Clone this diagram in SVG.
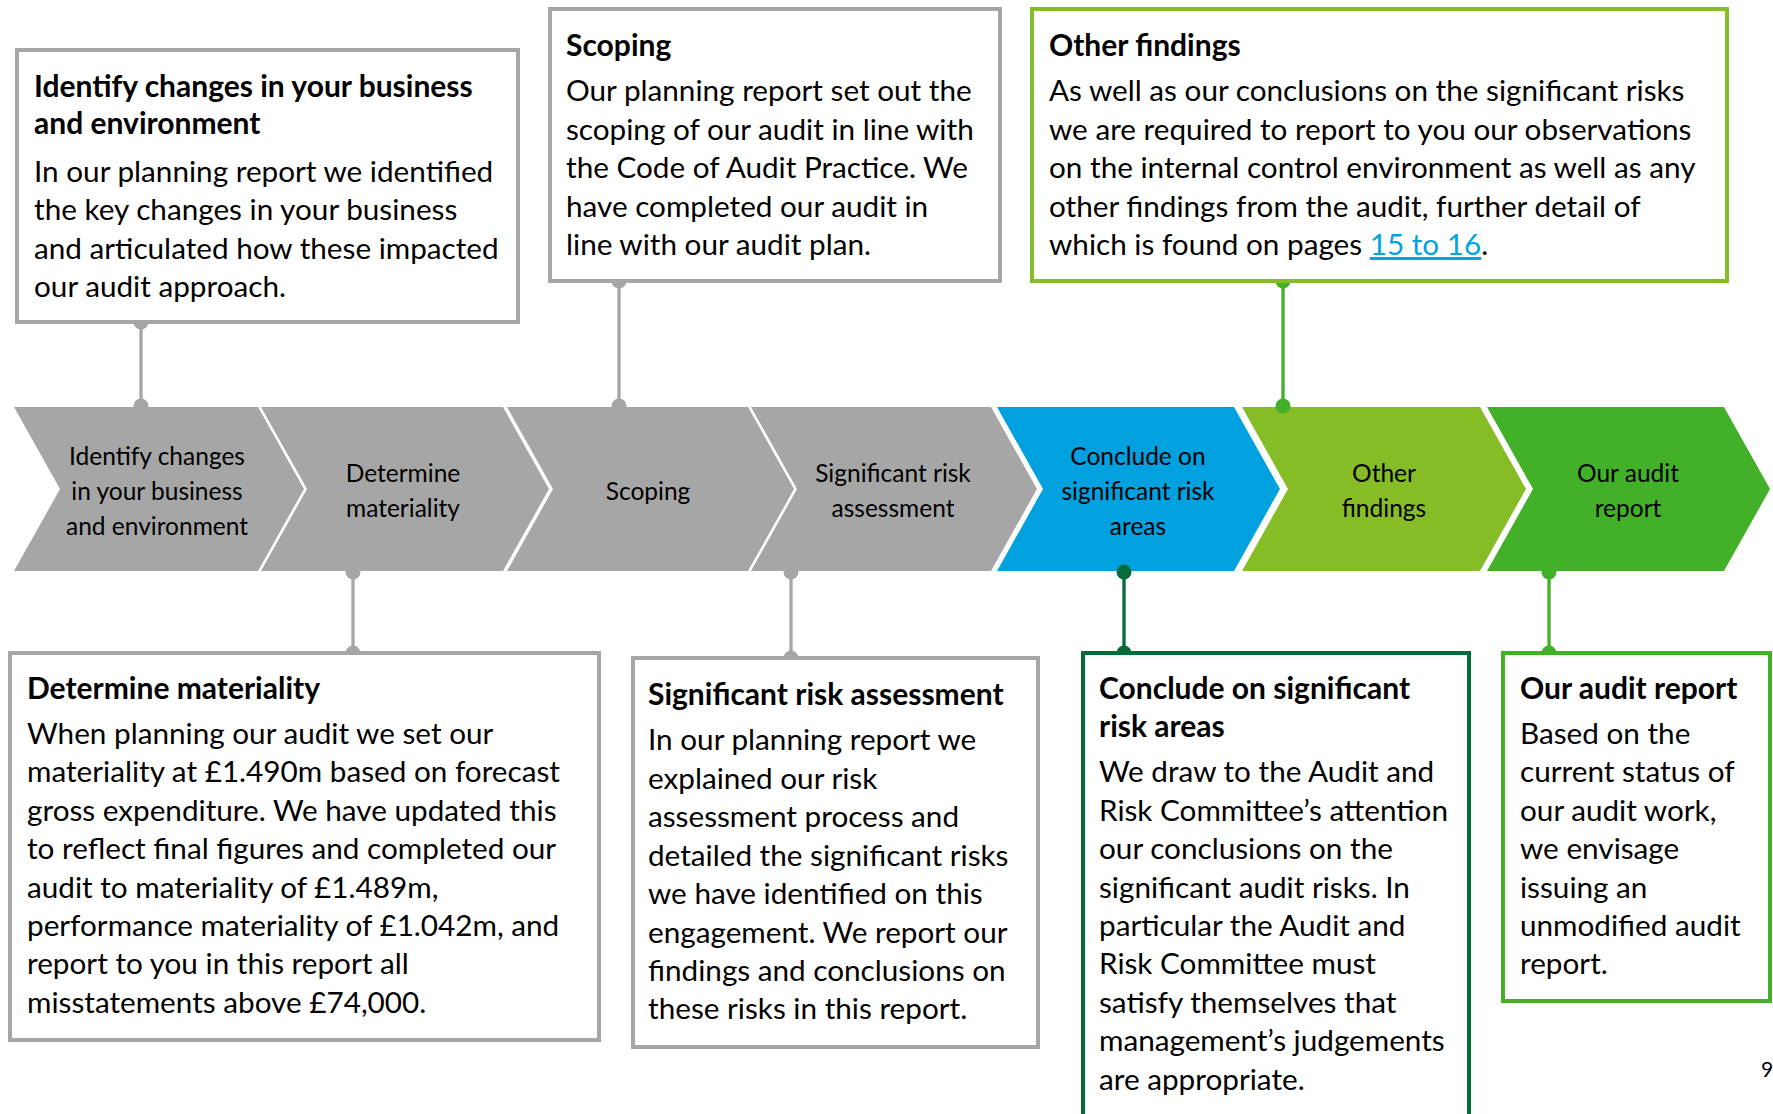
<svg xmlns="http://www.w3.org/2000/svg" width="1773" height="1114" viewBox="0 0 1773 1114">
  <style>
    .bg { fill: #ffffff; }
    .box { fill: #ffffff; stroke-width: 4; }
    .grey { stroke: #a6a6a6; }
    .lime { stroke: #86bc25; }
    .dark { stroke: #046a38; }
    .green { stroke: #43b02a; }
    .title { font-family: Lato, "Liberation Sans", sans-serif; font-weight: bold; font-size: 30px; fill: #000000; }
    .body { font-family: Lato, "Liberation Sans", sans-serif; font-size: 29.7px; fill: #000000; }
    .step { font-family: Lato, "Liberation Sans", sans-serif; font-size: 24.5px; fill: #000000; text-anchor: middle; }
    .link { fill: #00a3e0; text-decoration: underline; }
    .wire { fill: none; stroke-width: 3.3; }
    .page { font-family: Lato, "Liberation Sans", sans-serif; font-size: 21px; fill: #000000; }
  </style>

  <rect class="bg" x="0" y="0" width="1773" height="1114"/>

  <!-- process chevrons -->
  <g id="step-identify">
    <polygon points="14,407 258,407 304,489 258,571 14,571 60,489" fill="#a6a6a6"/>
    <text class="step" x="157" y="465">Identify changes</text>
    <text class="step" x="157" y="500">in your business</text>
    <text class="step" x="157" y="535">and environment</text>
  </g>
  <g id="step-materiality">
    <polygon points="261,407 503,407 549,489 503,571 261,571 307,489" fill="#a6a6a6"/>
    <text class="step" x="403" y="482">Determine</text>
    <text class="step" x="403" y="517">materiality</text>
  </g>
  <g id="step-scoping">
    <polygon points="507,407 748,407 794,489 748,571 507,571 553,489" fill="#a6a6a6"/>
    <text class="step" x="648" y="500">Scoping</text>
  </g>
  <g id="step-risk">
    <polygon points="751,407 991,407 1037,489 991,571 751,571 797,489" fill="#a6a6a6"/>
    <text class="step" x="893" y="482">Significant risk</text>
    <text class="step" x="893" y="517">assessment</text>
  </g>
  <g id="step-conclude">
    <polygon points="997,407 1234,407 1280,489 1234,571 997,571 1043,489" fill="#00a1de"/>
    <text class="step" x="1138" y="465">Conclude on</text>
    <text class="step" x="1138" y="500">significant risk</text>
    <text class="step" x="1138" y="535">areas</text>
  </g>
  <g id="step-findings">
    <polygon points="1242,407 1480,407 1526,489 1480,571 1242,571 1288,489" fill="#86bc25"/>
    <text class="step" x="1384" y="482">Other</text>
    <text class="step" x="1384" y="517">findings</text>
  </g>
  <g id="step-report">
    <polygon points="1487,407 1724,407 1770,489 1724,571 1487,571 1533,489" fill="#43b02a"/>
    <text class="step" x="1628" y="482">Our audit</text>
    <text class="step" x="1628" y="517">report</text>
  </g>

  <!-- callout leaders -->
  <g id="connectors">
    <g fill="#a6a6a6" stroke="#a6a6a6">
      <line class="wire" x1="141" y1="322" x2="141" y2="407"/>
      <circle cx="141" cy="322" r="7.5" stroke="none"/>
      <circle cx="141" cy="406" r="7.5" stroke="none"/>
      <line class="wire" x1="353" y1="571" x2="353" y2="653"/>
      <circle cx="353" cy="572" r="7.5" stroke="none"/>
      <circle cx="353" cy="653" r="7.5" stroke="none"/>
      <line class="wire" x1="619" y1="281" x2="619" y2="407"/>
      <circle cx="619" cy="281" r="7.5" stroke="none"/>
      <circle cx="619" cy="406" r="7.5" stroke="none"/>
      <line class="wire" x1="791" y1="571" x2="791" y2="658"/>
      <circle cx="791" cy="572" r="7.5" stroke="none"/>
      <circle cx="791" cy="658" r="7.5" stroke="none"/>
    </g>
    <g fill="#046a38" stroke="#046a38">
      <line class="wire" x1="1124" y1="571" x2="1124" y2="653"/>
      <circle cx="1124" cy="572" r="7.5" stroke="none"/>
      <circle cx="1124" cy="653" r="7.5" stroke="none"/>
    </g>
    <g fill="#43b02a" stroke="#43b02a">
      <line class="wire" x1="1283" y1="281" x2="1283" y2="407"/>
      <circle cx="1283" cy="281" r="7.5" stroke="none"/>
      <circle cx="1283" cy="406" r="7.5" stroke="none"/>
      <line class="wire" x1="1549" y1="571" x2="1549" y2="653"/>
      <circle cx="1549" cy="572" r="7.5" stroke="none"/>
      <circle cx="1549" cy="653" r="7.5" stroke="none"/>
    </g>
  </g>

  <!-- callout boxes -->
  <g id="box-identify">
    <rect class="box grey" x="17" y="50" width="501" height="272"/>
    <text class="title" x="34" y="97">Identify changes in your business</text>
    <text class="title" x="34" y="134">and environment</text>
    <text class="body" x="34" y="182">In our planning report we identified</text>
    <text class="body" x="34" y="220">the key changes in your business</text>
    <text class="body" x="34" y="259">and articulated how these impacted</text>
    <text class="body" x="34" y="297">our audit approach.</text>
  </g>

  <g id="box-scoping">
    <rect class="box grey" x="550" y="9" width="450" height="272"/>
    <text class="title" x="566" y="56">Scoping</text>
    <text class="body" x="566" y="101">Our planning report set out the</text>
    <text class="body" x="566" y="140">scoping of our audit in line with</text>
    <text class="body" x="566" y="178">the Code of Audit Practice. We</text>
    <text class="body" x="566" y="217">have completed our audit in</text>
    <text class="body" x="566" y="255">line with our audit plan.</text>
  </g>

  <g id="box-findings">
    <rect class="box lime" x="1032" y="9" width="695" height="272"/>
    <text class="title" x="1049" y="56">Other findings</text>
    <text class="body" x="1049" y="101">As well as our conclusions on the significant risks</text>
    <text class="body" x="1049" y="140">we are required to report to you our observations</text>
    <text class="body" x="1049" y="178">on the internal control environment as well as any</text>
    <text class="body" x="1049" y="217">other findings from the audit, further detail of</text>
    <text class="body" x="1049" y="255">which is found on pages <tspan class="link">15 to 16</tspan>.</text>
  </g>

  <g id="box-materiality">
    <rect class="box grey" x="10" y="653" width="589" height="387"/>
    <text class="title" x="27" y="699">Determine materiality</text>
    <text class="body" x="27" y="744">When planning our audit we set our</text>
    <text class="body" x="27" y="782">materiality at £1.490m based on forecast</text>
    <text class="body" x="27" y="821">gross expenditure. We have updated this</text>
    <text class="body" x="27" y="859">to reflect final figures and completed our</text>
    <text class="body" x="27" y="898">audit to materiality of £1.489m,</text>
    <text class="body" x="27" y="936">performance materiality of £1.042m, and</text>
    <text class="body" x="27" y="974">report to you in this report all</text>
    <text class="body" x="27" y="1013">misstatements above £74,000.</text>
  </g>

  <g id="box-risk">
    <rect class="box grey" x="633" y="658" width="405" height="389"/>
    <text class="title" x="648" y="705">Significant risk assessment</text>
    <text class="body" x="648" y="750">In our planning report we</text>
    <text class="body" x="648" y="789">explained our risk</text>
    <text class="body" x="648" y="827">assessment process and</text>
    <text class="body" x="648" y="866">detailed the significant risks</text>
    <text class="body" x="648" y="904">we have identified on this</text>
    <text class="body" x="648" y="943">engagement. We report our</text>
    <text class="body" x="648" y="981">findings and conclusions on</text>
    <text class="body" x="648" y="1019">these risks in this report.</text>
  </g>

  <g id="box-conclude">
    <rect class="box dark" x="1083" y="653" width="386" height="480"/>
    <text class="title" x="1099" y="699">Conclude on significant</text>
    <text class="title" x="1099" y="737">risk areas</text>
    <text class="body" x="1099" y="782">We draw to the Audit and</text>
    <text class="body" x="1099" y="821">Risk Committee’s attention</text>
    <text class="body" x="1099" y="859">our conclusions on the</text>
    <text class="body" x="1099" y="898">significant audit risks. In</text>
    <text class="body" x="1099" y="936">particular the Audit and</text>
    <text class="body" x="1099" y="974">Risk Committee must</text>
    <text class="body" x="1099" y="1013">satisfy themselves that</text>
    <text class="body" x="1099" y="1051">management’s judgements</text>
    <text class="body" x="1099" y="1090">are appropriate.</text>
  </g>

  <g id="box-report">
    <rect class="box green" x="1503" y="653" width="267" height="348"/>
    <text class="title" x="1520" y="699">Our audit report</text>
    <text class="body" x="1520" y="744">Based on the</text>
    <text class="body" x="1520" y="782">current status of</text>
    <text class="body" x="1520" y="821">our audit work,</text>
    <text class="body" x="1520" y="859">we envisage</text>
    <text class="body" x="1520" y="898">issuing an</text>
    <text class="body" x="1520" y="936">unmodified audit</text>
    <text class="body" x="1520" y="974">report.</text>
  </g>

  <text class="page" x="1761" y="1077">9</text>
</svg>
